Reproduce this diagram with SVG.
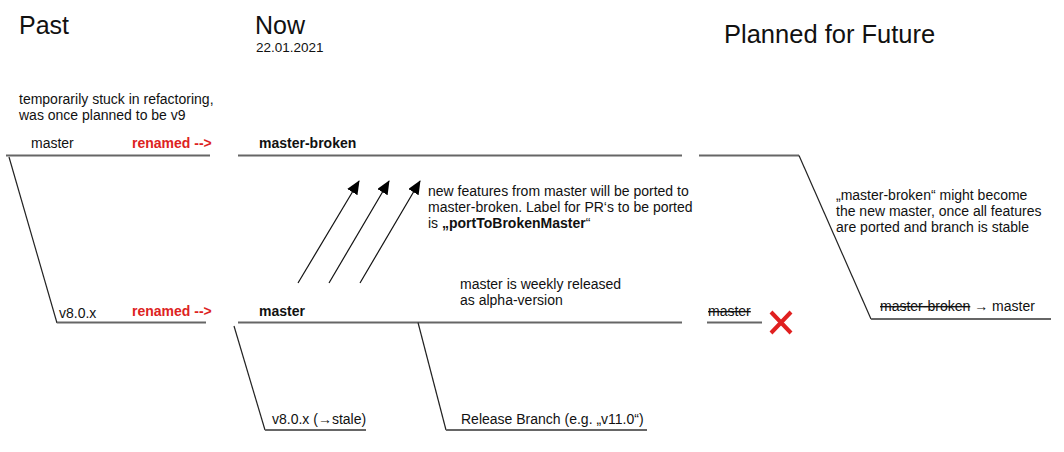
<svg xmlns="http://www.w3.org/2000/svg" width="1064" height="452" viewBox="0 0 1064 452">
<style>
text{font-family:"Liberation Sans",Arial,sans-serif;fill:#111;font-size:14px}
.h1{font-size:25px}
.b{font-weight:bold}
.red{fill:#dd2222;font-weight:bold}
.strike{text-decoration:line-through}
.br{stroke:#666;stroke-width:2;fill:none}
.dg{stroke:#222;stroke-width:1.2;fill:none}
.ar{stroke:#111;stroke-width:1.2;fill:none;marker-end:url(#ah)}
</style>
<defs>
<marker id="ah" markerWidth="14" markerHeight="12" refX="13" refY="6" orient="auto" markerUnits="userSpaceOnUse">
<path d="M0,0 L14,6 L0,12 Z" fill="#000"/>
</marker>
</defs>
<rect width="1064" height="452" fill="#fff"/>
<g id="headings">
<text class="h1" x="19" y="34">Past</text>
<text class="h1" x="255" y="34">Now</text>
<text x="256" y="52" style="font-size:13.5px">22.01.2021</text>
<text class="h1" x="724" y="43" style="font-size:25.5px">Planned for Future</text>
</g>
<g id="connectors">
<path class="br" d="M6,155.5 H210"/>
<path class="dg" d="M9,157 L57,323"/>
<path class="br" d="M57,322.5 H206"/>
<path class="br" d="M238,155.5 H682"/>
<path class="br" d="M238,322.5 H682"/>
<path class="dg" d="M234,326 L265,430"/>
<path class="br" d="M265,430 H366"/>
<path class="dg" d="M418,322.5 L446,430"/>
<path class="br" d="M446,430 H647"/>
<path class="br" d="M699,155.5 H799"/>
<path class="dg" d="M799,155.5 L871,319"/>
<path class="br" d="M871,319 H1051"/>
<path class="br" d="M707,322.5 H762"/>
<path class="ar" d="M298,283 L359,181"/>
<path class="ar" d="M329,283 L389,181"/>
<path class="ar" d="M360,283 L420,181"/>
</g>
<g id="past-master">
<text x="19" y="104">temporarily stuck in refactoring,</text>
<text x="19" y="120">was once planned to be v9</text>
<text x="31" y="148">master</text>
<text class="red" x="132" y="148">renamed --&gt;</text>
</g>
<g id="past-v8">
<text x="59" y="318">v8.0.x</text>
<text class="red" x="132" y="316">renamed --&gt;</text>
</g>
<g id="now-master-broken">
<text class="b" x="259" y="148">master-broken</text>
<text x="428" y="196">new features from master will be ported to</text>
<text x="428" y="212">master-broken. Label for PR‘s to be ported</text>
<text x="428" y="228">is <tspan class="b">„portToBrokenMaster</tspan>“</text>
</g>
<g id="now-master">
<text class="b" x="259" y="316">master</text>
<text x="460" y="289">master is weekly released</text>
<text x="460" y="305">as alpha-version</text>
</g>
<g id="now-v8-stale">
<text x="272" y="424">v8.0.x (→stale)</text>
</g>
<g id="now-release-branch">
<text x="461" y="424">Release Branch (e.g. „v11.0“)</text>
</g>
<g id="future-master">
<text class="strike" x="708" y="316">master</text>
<path d="M771,312 L791,333 M791,312 L771,333" stroke="#e02020" stroke-width="4" fill="none"/>
</g>
<g id="future-master-broken">
<text x="836" y="200">„master-broken“ might become</text>
<text x="836" y="216">the new master, once all features</text>
<text x="836" y="232">are ported and branch is stable</text>
<text x="880" y="311"><tspan class="strike">master-broken</tspan> → master</text>
</g>
</svg>
